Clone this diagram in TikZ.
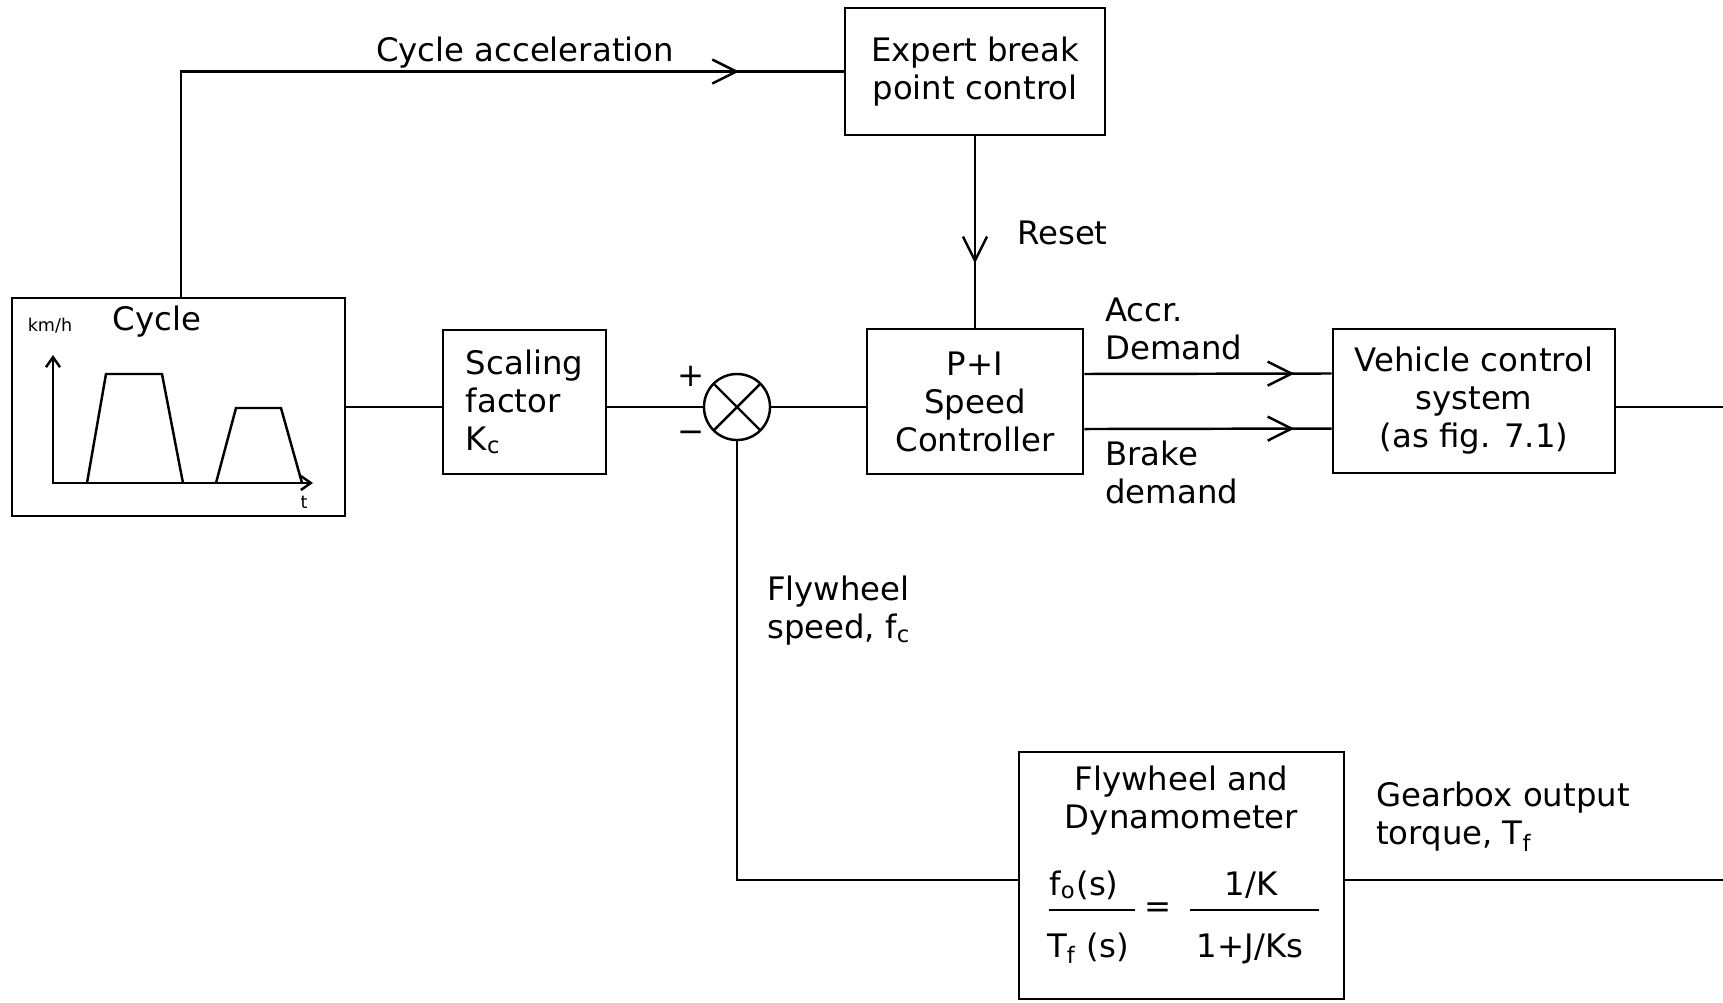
\documentclass[tikz,border=0pt]{standalone}
\usepackage{fontspec}
\setmainfont{DejaVu Sans}
\usetikzlibrary{arrows.meta,decorations.markings}

\begin{document}
\begin{tikzpicture}[x=0.01cm,y=-0.01cm,line width=0.7pt,font=\fontsize{9.2}{10.8}\selectfont,
  blockbox/.style={draw,inner sep=0pt,align=center},
  sumnode/.style={circle,draw,minimum size=0.66cm,inner sep=0pt,
    path picture={\draw (path picture bounding box.north west)--(path picture bounding box.south east)
      (path picture bounding box.north east)--(path picture bounding box.south west);}},
  arrowat/.style={postaction={decorate},decoration={markings,
    mark=at position #1 with {\arrow{Straight Barb[length=2.4mm,width=2.4mm]}}}},
  lab/.style={inner sep=0pt,align=left},
  tinytext/.style={inner sep=0pt,font=\fontsize{5}{6}\selectfont}]
\useasboundingbox (0,0) rectangle (1723,1002);
% Blocks of the test rig.
\node[blockbox,minimum width=3.33cm,minimum height=2.18cm] (cycle) at (178.5,407) {};
\node[blockbox,minimum width=1.63cm,minimum height=1.44cm,align=left] (scal) at (524.5,402) {Scaling\\factor\\K\textsubscript{c}};
\node[blockbox,minimum width=2.60cm,minimum height=1.27cm] (expert) at (975,71.5) {Expert break\\point control};
\node[blockbox,minimum width=2.16cm,minimum height=1.45cm] (pi) at (975,401.5) {P+I\\Speed\\Controller};
\node[blockbox,minimum width=2.82cm,minimum height=1.44cm] (veh) at (1474,401) {Vehicle control\\system\\(as fig. 7.1)};
\node[blockbox,minimum width=3.25cm,minimum height=2.47cm] (fly) at (1181.5,875.5) {};
\node[sumnode] (sum) at (737,407) {};
\node[inner sep=0pt] (plus) at (691,376) {+};
\node[inner sep=0pt] (minus) at (691,437) {−};
\coordinate (outr) at (1723,407);
\coordinate (torq) at (1723,880);
% Speed cycle sketched inside its box.
\node[inner sep=0pt] (cyclelab) at (157,322) {Cycle};
\node[tinytext] (kmh) at (50,326) {km/h};
\node[tinytext] (tlab) at (304,502) {t};
\draw[{Straight Barb[length=1mm,width=1.4mm]}-{Straight Barb[length=1mm,width=1.4mm]}] (53,355) -- (53,483) -- (313,483);
\foreach \a/\b/\c/\d/\h in {87/106/162/183/374,216/236/281/302/408}{
\draw (\a,483) -- (\b,\h) -- (\c,\h) -- (\d,483);}
% Transfer function of the flywheel.
\node[inner sep=0pt,anchor=north,align=center] (flylab) at ([yshift=-0.14cm]fly.north) {Flywheel and\\Dynamometer};
\foreach \xa/\xb in {1049/1135,1190/1319}{\draw (\xa,910) -- (\xb,910);}
\node[inner sep=0pt] (eq) at (1158,910) {=};
\node[inner sep=0pt,anchor=base] (fnum) at (1084,895) {f\textsubscript{o}(s)};
\node[inner sep=0pt,anchor=base] (fden) at (1088,957) {T\textsubscript{f} (s)};
\node[inner sep=0pt,anchor=base] (gnum) at (1251,895) {1/K};
\node[inner sep=0pt,anchor=base] (gden) at (1250,957) {1+J/Ks};
% Signal lines.
\draw[arrowat=7.83cm] ([xshift=1.7cm]cycle.north west) |- (expert.west);
\draw[arrowat=1.27cm] (expert.south) -- (pi.north);
\draw (cycle.east) -- (scal.west |- cycle.east);
\draw (scal.east |- sum) -- (sum.west);
\draw (sum.east) -- (pi.west |- sum);
\foreach \dy in {0.275cm,-0.275cm}{
\draw[arrowat=2.1cm] ([yshift=\dy]pi.east) -- ([yshift=\dy]veh.west);}
\draw (veh.east |- outr) -- (outr);
\draw (fly.east |- torq) -- (torq);
\draw (fly.west |- torq) -| (sum.south);
% Signal names.
\node[anchor=base] (acclab) at (525,61) {Cycle acceleration};
\node[lab,anchor=base west] (resetlab) at (1016,244) {Reset};
\node[lab,anchor=north west] (accrlab) at (1104,297) {Accr.\\Demand};
\node[lab,anchor=north west] (brakelab) at (1104,440) {Brake\\demand};
\node[lab,anchor=north west] (speedlab) at (766,575) {Flywheel\\speed, f\textsubscript{c}};
\node[lab,anchor=north west] (torqlab) at (1375,781) {Gearbox output\\torque, T\textsubscript{f}};
\end{tikzpicture}
\end{document}
